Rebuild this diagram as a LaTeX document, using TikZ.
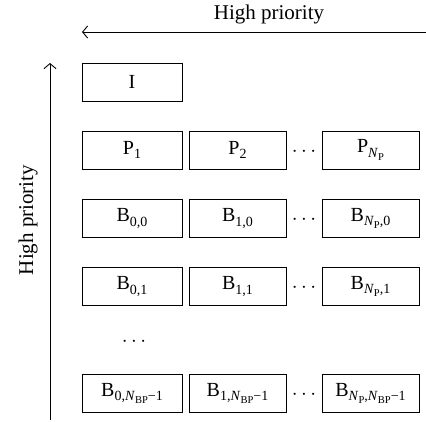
\documentclass[tikz,border=0pt]{standalone}
\usepackage{fontspec}
\setmainfont{Liberation Serif}
\usetikzlibrary{arrows.meta}
\newcommand{\mysub}[1]{\raisebox{-0.22em}{\fontsize{14}{14}\selectfont #1}}
\newcommand{\mysubsub}[1]{\raisebox{-0.22em}{\fontsize{10.5}{11}\selectfont #1}}
\newcommand{\NP}{\textit{N}\mysubsub{P}}
\newcommand{\NBP}{\textit{N}\mysubsub{BP}}
\begin{document}
\begin{tikzpicture}[x=1pt,y=1pt,
  cell/.style={draw, line width=1pt, minimum height=38pt, inner sep=0pt, font=\fontsize{20}{22}\selectfont},
  wide/.style={cell, minimum width=100pt},
  narrow/.style={cell, minimum width=97pt},
  lbl/.style={font=\fontsize{21}{22}\selectfont, inner sep=0pt},
  arr/.style={line width=0.9pt, -{Straight Barb[length=5pt,width=12pt]}}]
\useasboundingbox (0,0) rectangle (426,-421);
% top arrow
\coordinate (hs) at (426,-32);
\coordinate (he) at (82,-32);
\draw[arr] (hs) -- (he);
\node[lbl] (htext) at (269,-14) {High priority};
% vertical arrow
\coordinate (vs) at (50,-420);
\coordinate (ve) at (50,-63);
\draw[arr] (vs) -- (ve);
\begin{scope}[transform canvas={rotate around={90:(28,-220)}}]
\node[lbl] (vtext) at (28,-220) {High priority};
\end{scope}
% rows
\node[wide] (I) at (132,-82) {I};
\node[wide] (p1) at (132,-150) {P\mysub{1}};
\node[narrow] (p2) at (237.5,-150) {P\mysub{2}};
\node[narrow] (pn) at (370.5,-150) {P\mysub{\NP}};
\node[lbl] (pd) at (304,-152) {$\cdots$};
\node[wide] (b00) at (132,-218.5) {B\mysub{0,0}};
\node[narrow] (b10) at (237.5,-218.5) {B\mysub{1,0}};
\node[narrow] (bn0) at (370.5,-218.5) {B\mysub{\NP,0}};
\node[lbl] (b0d) at (304,-220) {$\cdots$};
\node[wide] (b01) at (132,-286.5) {B\mysub{0,1}};
\node[narrow] (b11) at (237.5,-286.5) {B\mysub{1,1}};
\node[narrow] (bn1) at (370.5,-286.5) {B\mysub{\NP,1}};
\node[lbl] (b1d) at (304,-288) {$\cdots$};
\node[lbl] (vd) at (134,-342) {$\cdots$};
\node[wide] (b0l) at (132,-393.5) {B\mysub{0,\NBP−1}};
\node[narrow] (b1l) at (237.5,-393.5) {B\mysub{1,\NBP−1}};
\node[narrow] (bnl) at (370.5,-393.5) {B\mysub{\NP,\NBP−1}};
\node[lbl] (bld) at (304,-395) {$\cdots$};
\end{tikzpicture}
\end{document}
